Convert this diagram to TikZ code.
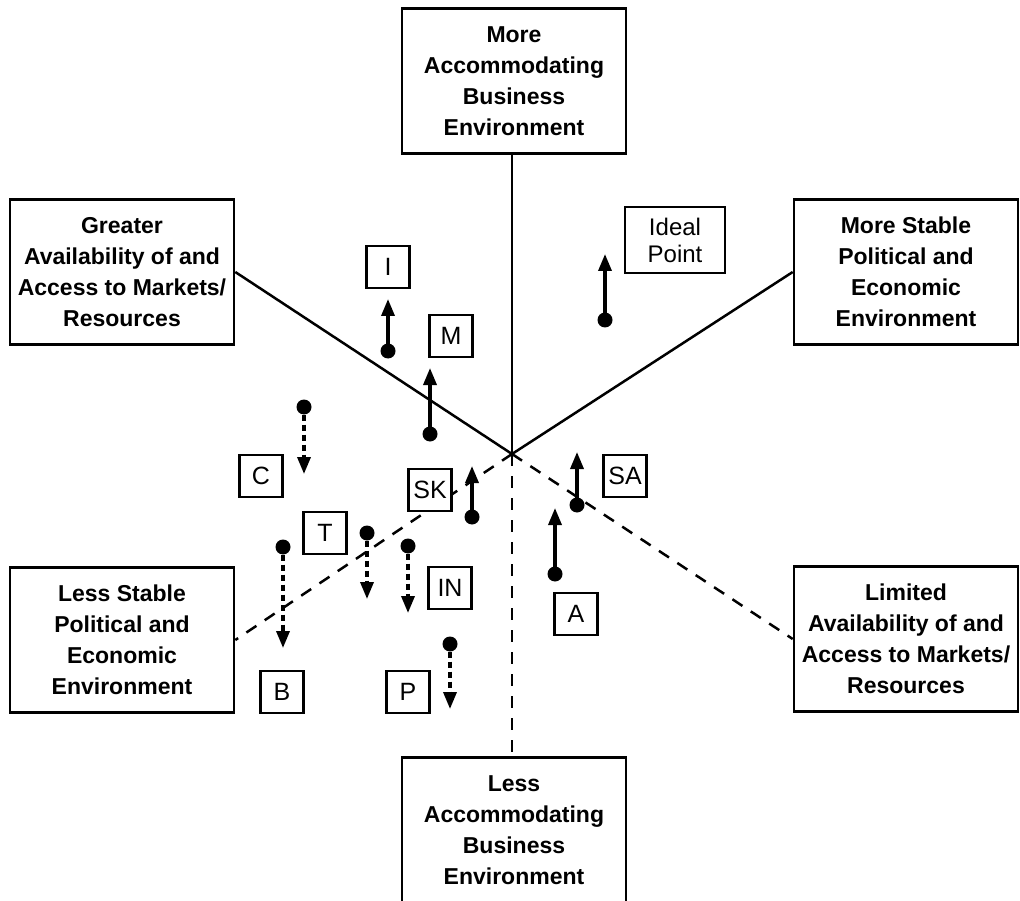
\documentclass[tikz,border=0pt]{standalone}
\usepackage{fontspec}
\setmainfont{Liberation Sans}
\usetikzlibrary{arrows.meta}
\begin{document}
\begin{tikzpicture}[x=1pt,y=-1pt,
 bigbox/.style={draw, line width=2.6pt, minimum width=224pt, minimum height=145pt, align=center, font=\fontsize{23}{31}\selectfont\bfseries, inner sep=0pt, fill=white},
 lab/.style={draw, line width=2.4pt, minimum width=43pt, minimum height=42pt, inner sep=0pt, font=\fontsize{25}{27}\selectfont, fill=white},
 axisline/.style={line width=2.5pt},
 daxisline/.style={line width=2.5pt, dash pattern=on 12pt off 10pt},
 dot/.style={circle, fill, inner sep=0pt, minimum size=15pt},
 uparrow/.style={line width=3.4pt, -{Triangle[width=13pt,length=17pt]}},
 downarrow/.style={line width=3.4pt, dash pattern=on 6pt off 4pt, -{Triangle[width=13pt,length=17pt]}}]
\useasboundingbox (0,0) rectangle (1020,901);

\coordinate (O) at (512,454);

% axis boxes
\node[bigbox] (top) at (514,81) {More\\Accommodating\\Business\\Environment};
\node[bigbox] (gl) at (122,272) {Greater\\Availability of and\\Access to Markets/\\Resources};
\node[bigbox] (ms) at (906,272) {More Stable\\Political and\\Economic\\Environment};
\node[bigbox] (ls) at (122,640) {Less Stable\\Political and\\Economic\\Environment};
\node[bigbox] (la) at (906,639) {Limited\\Availability of and\\Access to Markets/\\Resources};
\node[bigbox] (bot) at (514,830) {Less\\Accommodating\\Business\\Environment};

% axes
\draw[axisline] (O |- top.south) -- (O);
\draw[axisline] (gl.east) -- (O);
\draw[axisline] (ms.west) -- (O);
\draw[daxisline] (O) -- (ls.east);
\draw[daxisline] (O) -- (la.west);
\draw[daxisline] (O) -- (O |- bot.north);

% labels
\node[lab] (I) at (388,267) {I};
\node[lab] (M) at (451,336) {M};
\node[lab] (SK) at (430,490) {SK};
\node[lab] (C) at (261,476) {C};
\node[lab] (T) at (325,533) {T};
\node[lab] (IN) at (450,588) {IN};
\node[lab] (B) at (282,692) {B};
\node[lab] (P) at (408,692) {P};
\node[lab] (SA) at (625,476) {SA};
\node[lab] (A) at (576,614) {A};
\node[draw, line width=2.4pt, minimum width=100pt, minimum height=66pt, inner sep=0pt, align=center, font=\fontsize{24}{27}\selectfont] (ideal) at (675,240) {Ideal\\Point};

% movement arrows: dots and tips
\node[dot] (dI) at (388,351) {};   \coordinate (tI) at (388,299);
\node[dot] (dM) at (430,434) {};   \coordinate (tM) at (430,368);
\node[dot] (dIP) at (605,320) {};  \coordinate (tIP) at (605,254);
\node[dot] (dSK) at (472,517) {};  \coordinate (tSK) at (472,466);
\node[dot] (dSA) at (577,505) {};  \coordinate (tSA) at (577,452);
\node[dot] (dA) at (555,574) {};   \coordinate (tA) at (555,508);
\node[dot] (dC) at (304,407) {};   \coordinate (tC) at (304,474);
\node[dot] (dT) at (367,533) {};   \coordinate (tT) at (367,599);
\node[dot] (dB) at (283,547) {};   \coordinate (tB) at (283,648);
\node[dot] (dIN) at (408,546) {};  \coordinate (tIN) at (408,613);
\node[dot] (dP) at (450,644) {};   \coordinate (tP) at (450,709);

\draw[uparrow] (dI.center) -- (tI);
\draw[uparrow] (dM.center) -- (tM);
\draw[uparrow] (dIP.center) -- (tIP);
\draw[uparrow] (dSK.center) -- (tSK);
\draw[uparrow] (dSA.center) -- (tSA);
\draw[uparrow] (dA.center) -- (tA);
\draw[downarrow] (dC) -- (tC);
\draw[downarrow] (dT) -- (tT);
\draw[downarrow] (dB) -- (tB);
\draw[downarrow] (dIN) -- (tIN);
\draw[downarrow] (dP) -- (tP);
\end{tikzpicture}
\end{document}
